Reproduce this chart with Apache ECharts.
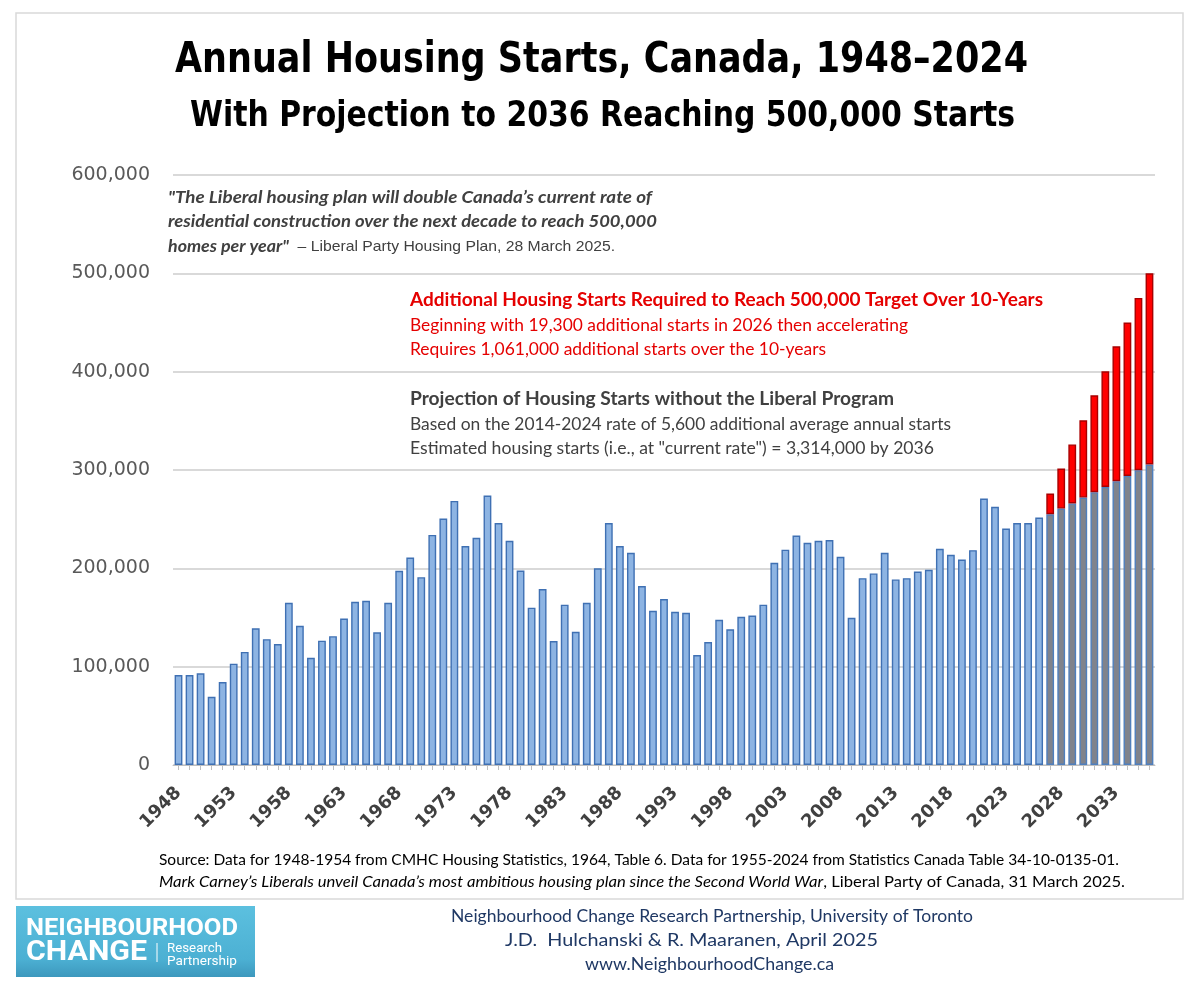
<!DOCTYPE html>
<html>
<head>
<meta charset="utf-8">
<script src="https://cdn.jsdelivr.net/npm/echarts@6/dist/echarts.min.js"></script>
<style>
html,body{margin:0;padding:0;background:#fff;}
#chart{width:1200px;height:985px;}
</style>
</head>
<body>
<div id="chart"></div>
<script>
// ---------- DATA ----------
const years = ['1948','1949','1950','1951','1952','1953','1954','1955','1956','1957',
'1958','1959','1960','1961','1962','1963','1964','1965','1966','1967',
'1968','1969','1970','1971','1972','1973','1974','1975','1976','1977',
'1978','1979','1980','1981','1982','1983','1984','1985','1986','1987',
'1988','1989','1990','1991','1992','1993','1994','1995','1996','1997',
'1998','1999','2000','2001','2002','2003','2004','2005','2006','2007',
'2008','2009','2010','2011','2012','2013','2014','2015','2016','2017',
'2018','2019','2020','2021','2022','2023','2024','2025','2026','2027',
'2028','2029','2030','2031','2032','2033','2034','2035','2036'];

// Observed / current housing starts, 1948–2026 (blue bars)
const actualStarts = [91500,91500,93200,69400,84300,103000,115000,139000,128000,123000,
165000,141600,109000,126400,131000,149000,166000,167000,135000,165000,
197500,211000,191000,234000,250700,268600,222600,231000,274000,246000,
228000,197800,160000,179000,126000,163000,135500,165000,200000,246000,
222600,215800,182000,156800,168700,155800,154800,111800,125000,147700,
138000,150700,152000,163000,205600,219000,233400,226000,228000,228700,
211700,149700,190000,194800,215800,188700,190000,196800,198500,219900,
213700,209000,218500,271000,262500,240500,246000,246000,251700];

// Projection years (grey + red bars)
const projYears = ['2027','2028','2029','2030','2031','2032','2033','2034','2035','2036'];
const projectedStarts = [255000,260800,266000,272000,277400,282800,288600,294000,299800,305600];
const additionalStarts = [21000,40700,60000,78600,98600,117600,137200,156000,175200,194400];

const yTicks = [0,100000,200000,300000,400000,500000,600000];

// ---------- BUILD SERIES ----------
const nActual = actualStarts.length;
const blueData = years.map((y,i) => i < nActual ? actualStarts[i] : null);
const greyData = years.map(y => { const k = projYears.indexOf(y); return k >= 0 ? projectedStarts[k] : null; });
const redData  = years.map(y => { const k = projYears.indexOf(y); return k >= 0 ? additionalStarts[k] : null; });

// ---------- TEXT HELPERS ----------
const ctx = document.createElement('canvas').getContext('2d');
function fontStr(f){ return `${f.style||'normal'} ${f.weight||'normal'} ${f.size}px "${f.family}"`; }
function measure(parts){ let w=0; parts.forEach(p=>{ctx.font=fontStr(p.f); w+=ctx.measureText(p.t).width;}); return w; }
function txt(parts, left, right, yMid){
  const s = (right-left)/measure(parts);
  const rich = {};
  let text = '';
  parts.forEach((p,i)=>{
    const k = 's'+i;
    rich[k] = {fontFamily:p.f.family, fontSize:p.f.size, fontWeight:p.f.weight||'normal', fontStyle:p.f.style||'normal', fill:p.c, textFill:p.c};
    text += '{'+k+'|'+p.t.replace(/[{}|]/g,'')+'}';
  });
  return {type:'text', x:left, y:yMid, scaleX:s, z:100, silent:true,
    style:{text:text, rich:rich, align:'left', verticalAlign:'middle', textAlign:'left', textVerticalAlign:'middle',
      fontFamily:parts[0].f.family, fontSize:parts[0].f.size}};
}
const TITLE = {family:'DejaVu Sans', weight:'bold', size:42};
const SUB   = {family:'DejaVu Sans', weight:'bold', size:36};
const QI    = {family:'Lato', weight:'bold', style:'italic', size:17};
const QR    = {family:'Liberation Sans', size:15};
const CB    = {family:'Lato', weight:'bold', size:19};
const CR    = {family:'Lato', size:17};
const SR    = {family:'Lato', size:16};
const SI    = {family:'Lato', style:'italic', size:16};
const FR    = {family:'Lato', size:17};
const LB1   = {family:'Roboto', weight:'bold', size:24};
const LB2   = {family:'Roboto', weight:'bold', size:28};
const LS    = {family:'Roboto', size:13};

const RED = '#e50000', DG = '#404040', NAVY = '#1f3864';

const graphics = [
  {type:'rect', shape:{x:16, y:13, width:1167, height:886}, style:{fill:'none', stroke:'#d9d9d9', lineWidth:1.5}, silent:true, z:1},
  txt([{t:'Annual Housing Starts, Canada, 1948–2024', f:TITLE, c:'#000'}], 175, 1028, 61),
  txt([{t:'With Projection to 2036 Reaching 500,000 Starts', f:SUB, c:'#000'}], 190, 1015, 117),
  txt([{t:'"The Liberal housing plan will double Canada’s current rate of', f:QI, c:DG}], 168, 652, 198),
  txt([{t:'residential construction over the next decade to reach 500,000', f:QI, c:DG}], 168, 657, 222),
  txt([{t:'homes per year"', f:QI, c:DG},{t:'  – Liberal Party Housing Plan, 28 March 2025.', f:QR, c:DG}], 168, 615, 247),
  txt([{t:'Additional Housing Starts Required to Reach 500,000 Target Over 10-Years', f:CB, c:RED}], 410, 1043, 300),
  txt([{t:'Beginning with 19,300 additional starts in 2026 then accelerating', f:CR, c:RED}], 410, 908, 326),
  txt([{t:'Requires 1,061,000 additional starts over the 10-years', f:CR, c:RED}], 410, 826, 350),
  txt([{t:'Projection of Housing Starts without the Liberal Program', f:CB, c:DG}], 410, 894, 399),
  txt([{t:'Based on the 2014-2024 rate of 5,600 additional average annual starts', f:CR, c:DG}], 410, 951, 425),
  txt([{t:'Estimated housing starts (i.e., at "current rate") = 3,314,000 by 2036', f:CR, c:DG}], 410, 934, 449),
  txt([{t:'Source: Data for 1948-1954 from CMHC Housing Statistics, 1964, Table 6. Data for 1955-2024 from Statistics Canada Table 34-10-0135-01.', f:SR, c:'#000'}], 159, 1119, 860),
  txt([{t:'Mark Carney’s Liberals unveil Canada’s most ambitious housing plan since the Second World War', f:SI, c:'#000'},{t:', Liberal Party of Canada, 31 March 2025.', f:SR, c:'#000'}], 159, 1125, 882),
  txt([{t:'Neighbourhood Change Research Partnership, University of Toronto', f:FR, c:NAVY}], 451, 973, 917),
  txt([{t:'J.D.  Hulchanski & R. Maaranen, April 2025', f:FR, c:NAVY}], 505, 878, 941),
  txt([{t:'www.NeighbourhoodChange.ca', f:FR, c:NAVY}], 585, 834, 965),
  // logo
  {type:'rect', shape:{x:16, y:906, width:239, height:71}, silent:true, z:50,
    style:{fill:{type:'linear', x:0, y:0, x2:0, y2:1, colorStops:[{offset:0,color:'#5cc0df'},{offset:0.75,color:'#4cb0d3'},{offset:1,color:'#3d98bd'}]}}},
  txt([{t:'NEIGHBOURHOOD', f:LB1, c:'#fff'}], 26, 238, 929),
  txt([{t:'CHANGE', f:LB2, c:'#fff'}], 26, 147, 953),
  {type:'line', shape:{x1:157, y1:943, x2:157, y2:962}, style:{stroke:'#fff', lineWidth:1}, silent:true, z:100},
  txt([{t:'Research', f:LS, c:'#fff'}], 167, 222, 949),
  txt([{t:'Partnership', f:LS, c:'#fff'}], 167, 237, 962)
];

const chart = echarts.init(document.getElementById('chart'), null, {renderer:'canvas'});
const barBase = {type:'bar', stack:'all', barWidth:7.8, animation:false};
chart.setOption({
  animation:false,
  backgroundColor:'#fff',
  grid:{left:173, right:45, top:175, bottom:220, containLabel:false},
  xAxis:{
    type:'category', data:years, boundaryGap:true,
    axisLine:{show:true, lineStyle:{color:'#bfbfbf', width:1}},
    axisTick:{show:true, alignWithLabel:true, interval:0, length:5, lineStyle:{color:'#bfbfbf'}},
    axisLabel:{interval:4, rotate:45, margin:25, fontFamily:'DejaVu Sans', fontWeight:'bold', fontSize:18, color:'#404040'}
  },
  yAxis:{
    type:'value', min:yTicks[0], max:yTicks[yTicks.length-1], interval:yTicks[1]-yTicks[0],
    axisLine:{show:false}, axisTick:{show:false},
    axisLabel:{margin:23, fontFamily:'DejaVu Sans', fontSize:19, color:'#595959',
      formatter:v=>v.toLocaleString('en-US')},
    splitLine:{lineStyle:{color:'#d9d9d9', width:2}}
  },
  series:[
    Object.assign({}, barBase, {name:'Housing starts', data:blueData,
      itemStyle:{color:'#8db4e3', borderColor:'#3f70b3', borderWidth:1.4}}),
    Object.assign({}, barBase, {name:'Projection without Liberal program', data:greyData,
      itemStyle:{color:'#80838c', borderColor:'#4f7fbd', borderWidth:1.4}}),
    Object.assign({}, barBase, {name:'Additional required', data:redData,
      itemStyle:{color:'#ff0000', borderColor:'#a80000', borderWidth:1.4}})
  ],
  graphic:{elements:graphics}
});
</script>
</body>
</html>
